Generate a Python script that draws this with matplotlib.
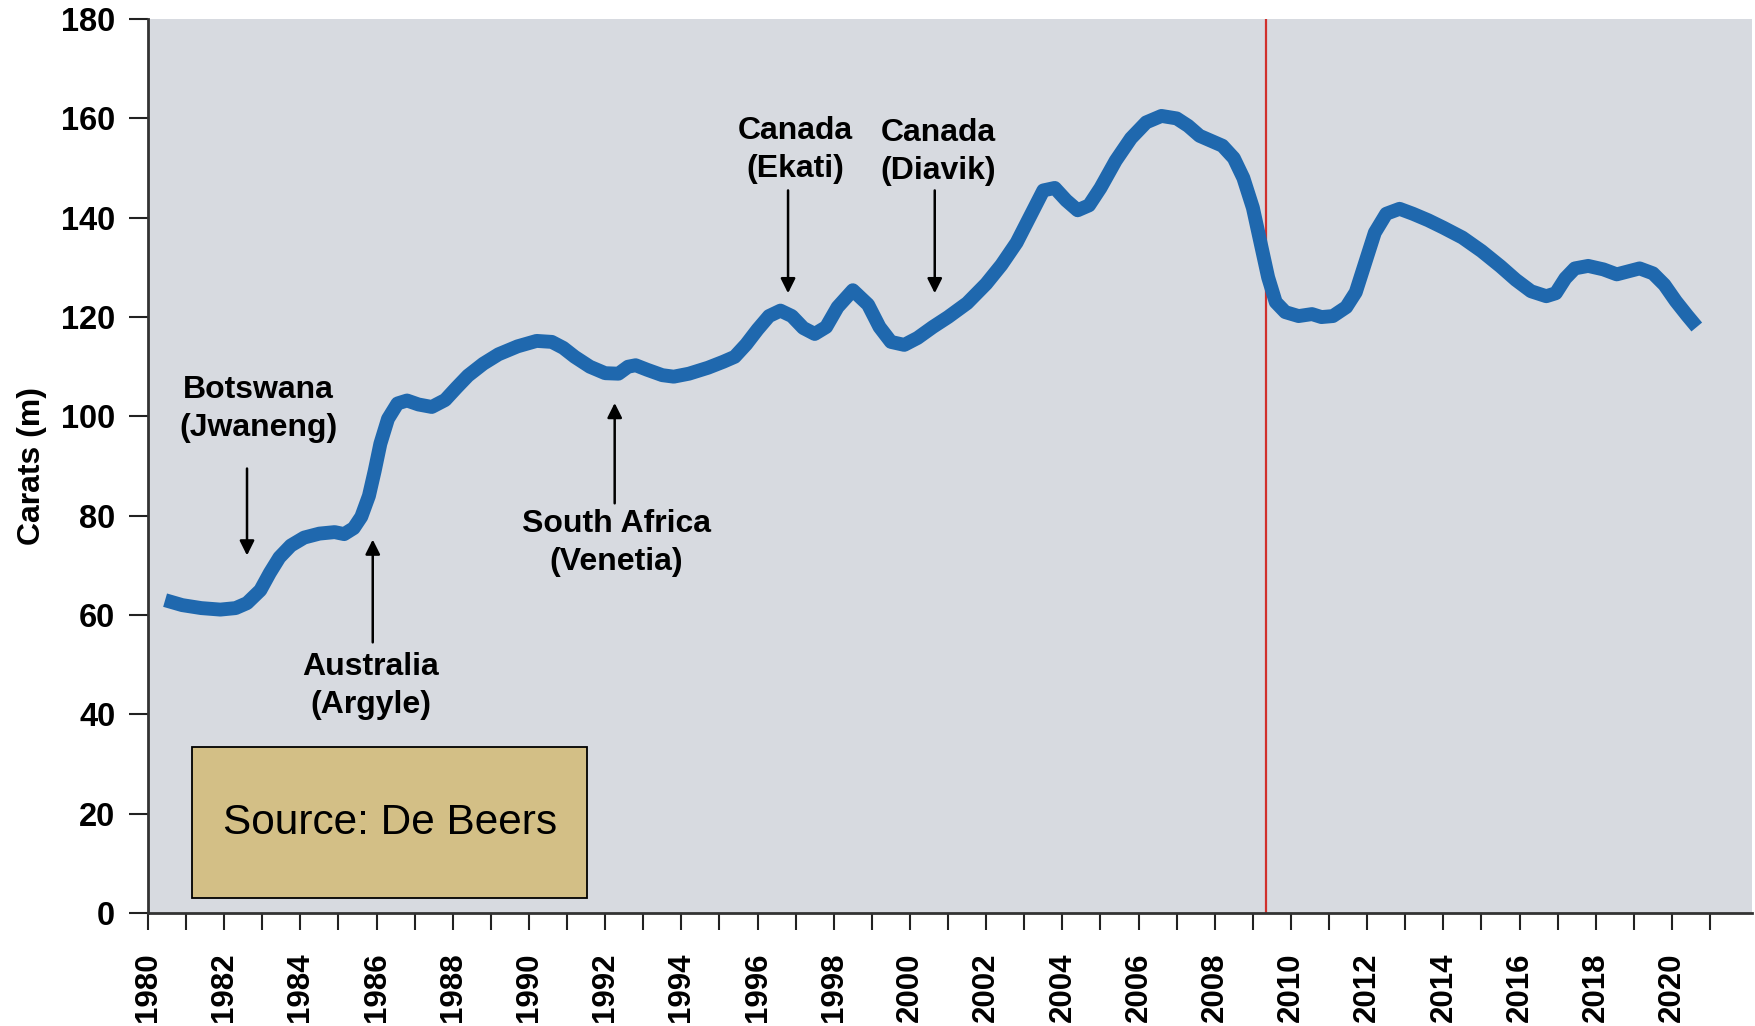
import matplotlib.pyplot as plt
from matplotlib.patches import Rectangle

plt.rcParams['font.family'] = ['Liberation Sans', 'DejaVu Sans']

# diamond production
years = [1980.45, 1980.9, 1981.4, 1981.9, 1982.3, 1982.6, 1982.95, 1983.2, 1983.45, 1983.75,
         1984.1, 1984.5, 1984.9, 1985.15, 1985.4, 1985.6, 1985.8, 1985.95, 1986.1, 1986.3,
         1986.55, 1986.8, 1987.1, 1987.45, 1987.8, 1988.1, 1988.4, 1988.8, 1989.2, 1989.7,
         1990.2, 1990.6, 1990.9, 1991.2, 1991.6, 1992.0, 1992.35, 1992.6, 1992.8, 1993.1,
         1993.5, 1993.8, 1994.2, 1994.7, 1995.1, 1995.4, 1995.7, 1996.0, 1996.3, 1996.6,
         1996.9, 1997.2, 1997.5, 1997.8, 1998.1, 1998.5, 1998.9, 1999.2, 1999.5,
         1999.85, 2000.2, 2000.6, 2001.0, 2001.5, 2002.0, 2002.4, 2002.8, 2003.2, 2003.5,
         2003.8, 2004.1, 2004.4, 2004.7, 2005.0, 2005.4, 2005.8, 2006.2, 2006.6, 2007.0,
         2007.3, 2007.6, 2007.9, 2008.2, 2008.5, 2008.75, 2009.0, 2009.2, 2009.4, 2009.6,
         2009.85, 2010.2, 2010.55, 2010.8, 2011.1, 2011.45, 2011.7, 2011.95, 2012.2, 2012.5,
         2012.85, 2013.2, 2013.6, 2014.0, 2014.5, 2015.0, 2015.5, 2015.9, 2016.3, 2016.7,
         2016.95, 2017.2, 2017.45, 2017.8, 2018.2, 2018.55, 2018.85, 2019.15, 2019.5, 2019.8,
         2020.1, 2020.4, 2020.65]
carats = [63.0, 62.0, 61.4, 61.1, 61.4, 62.4, 65.0, 68.5, 71.6, 74.0,
          75.6, 76.4, 76.7, 76.3, 77.5, 79.8, 84.0, 89.0, 94.5, 99.5,
          102.6, 103.2, 102.4, 101.9, 103.3, 105.8, 108.2, 110.6, 112.5, 114.1,
          115.2, 115.0, 113.8, 112.0, 110.0, 108.7, 108.6, 110.0, 110.3, 109.4,
          108.3, 108.0, 108.6, 109.8, 111.0, 112.0, 114.5, 117.5, 120.2, 121.3,
          120.2, 117.8, 116.6, 118.0, 122.0, 125.4, 122.5, 118.0, 115.0,
          114.4, 115.8, 118.0, 120.0, 122.8, 126.7, 130.5, 135.0, 141.0, 145.5,
          146.0, 143.5, 141.5, 142.5, 146.0, 151.5, 156.0, 159.2, 160.5, 160.0,
          158.5, 156.5, 155.5, 154.5, 152.0, 148.0, 142.0, 135.0, 128.0, 123.0,
          121.0, 120.2, 120.6, 120.0, 120.2, 122.0, 125.0, 131.0, 137.0, 140.8,
          141.8, 140.8, 139.5, 138.0, 136.0, 133.3, 130.2, 127.5, 125.2, 124.2,
          124.8, 127.8, 129.8, 130.3, 129.6, 128.6, 129.2, 129.8, 128.8, 126.5,
          123.2, 120.3, 118.0]

tick_years = list(range(1980, 2022))
tick_labels = [str(y) if y % 2 == 0 else '' for y in tick_years]
y_ticks = [0, 20, 40, 60, 80, 100, 120, 140, 160, 180]

# mine openings: label, arrow x, arrow tail y, arrow tip y, text x, text y
mine_labels = ['Botswana\n(Jwaneng)', 'Australia\n(Argyle)', 'South Africa\n(Venetia)',
               'Canada\n(Ekati)', 'Canada\n(Diavik)']
arrow_x = [1982.6, 1985.9, 1992.25, 1996.8, 2000.65]
arrow_tail = [89.5, 54.5, 82.5, 145.5, 145.5]
arrow_tip = [72.0, 75.2, 102.7, 124.8, 124.8]
label_x = [1982.9, 1985.85, 1992.3, 1997.0, 2000.75]
label_y = [101.4, 45.7, 74.5, 153.7, 153.3]

event_year = 2009.35

fig = plt.figure(figsize=(17.55, 10.26), dpi=100)
ax = fig.add_axes([0.0843, 0.1101, 0.914, 0.8713])
ax.set_facecolor('#d7dae0')

ax.plot(years, carats, color='#1f68ae', lw=10, solid_joinstyle='round',
        solid_capstyle='butt', zorder=3)
ax.axvline(event_year, color='#d0302c', lw=1.6, zorder=2)

for lab, ax_x, t0, t1, lx, ly in zip(mine_labels, arrow_x, arrow_tail, arrow_tip,
                                     label_x, label_y):
    ax.annotate('', xy=(ax_x, t1), xytext=(ax_x, t0),
                arrowprops=dict(arrowstyle='-|>', color='black', lw=1.8,
                                mutation_scale=22, shrinkA=0, shrinkB=0))
    ax.text(lx, ly, lab, ha='center', va='center', fontsize=23,
            fontweight='bold', linespacing=1.35, zorder=4)

ax.add_patch(Rectangle((0.0277, 0.0171), 0.2463, 0.169, transform=ax.transAxes,
                       facecolor='#d3bf86', edgecolor='black', lw=1.3, zorder=4))
ax.text(0.151, 0.101, 'Source: De Beers', transform=ax.transAxes, ha='center',
        va='center', fontsize=30.5, zorder=5)

ax.set_xlim(1980, 2022.1)
ax.set_ylim(0, 180)
ax.set_xticks(tick_years)
ax.set_xticklabels(tick_labels, rotation=90, fontsize=22.5, fontweight='bold')
ax.set_yticks(y_ticks)
ax.set_yticklabels([str(v) for v in y_ticks], fontsize=23.5, fontweight='bold')
ax.tick_params(axis='x', length=12.5, width=1.5, pad=16, color='#222222')
ax.tick_params(axis='y', length=13.5, width=1.5, pad=10, color='#222222')
ax.set_ylabel('Carats (m)', fontsize=23, fontweight='bold', labelpad=10)

for side in ['top', 'right']:
    ax.spines[side].set_visible(False)
for side in ['left', 'bottom']:
    ax.spines[side].set_linewidth(2)
    ax.spines[side].set_color('#333333')

fig.savefig('out.png', dpi=100)
